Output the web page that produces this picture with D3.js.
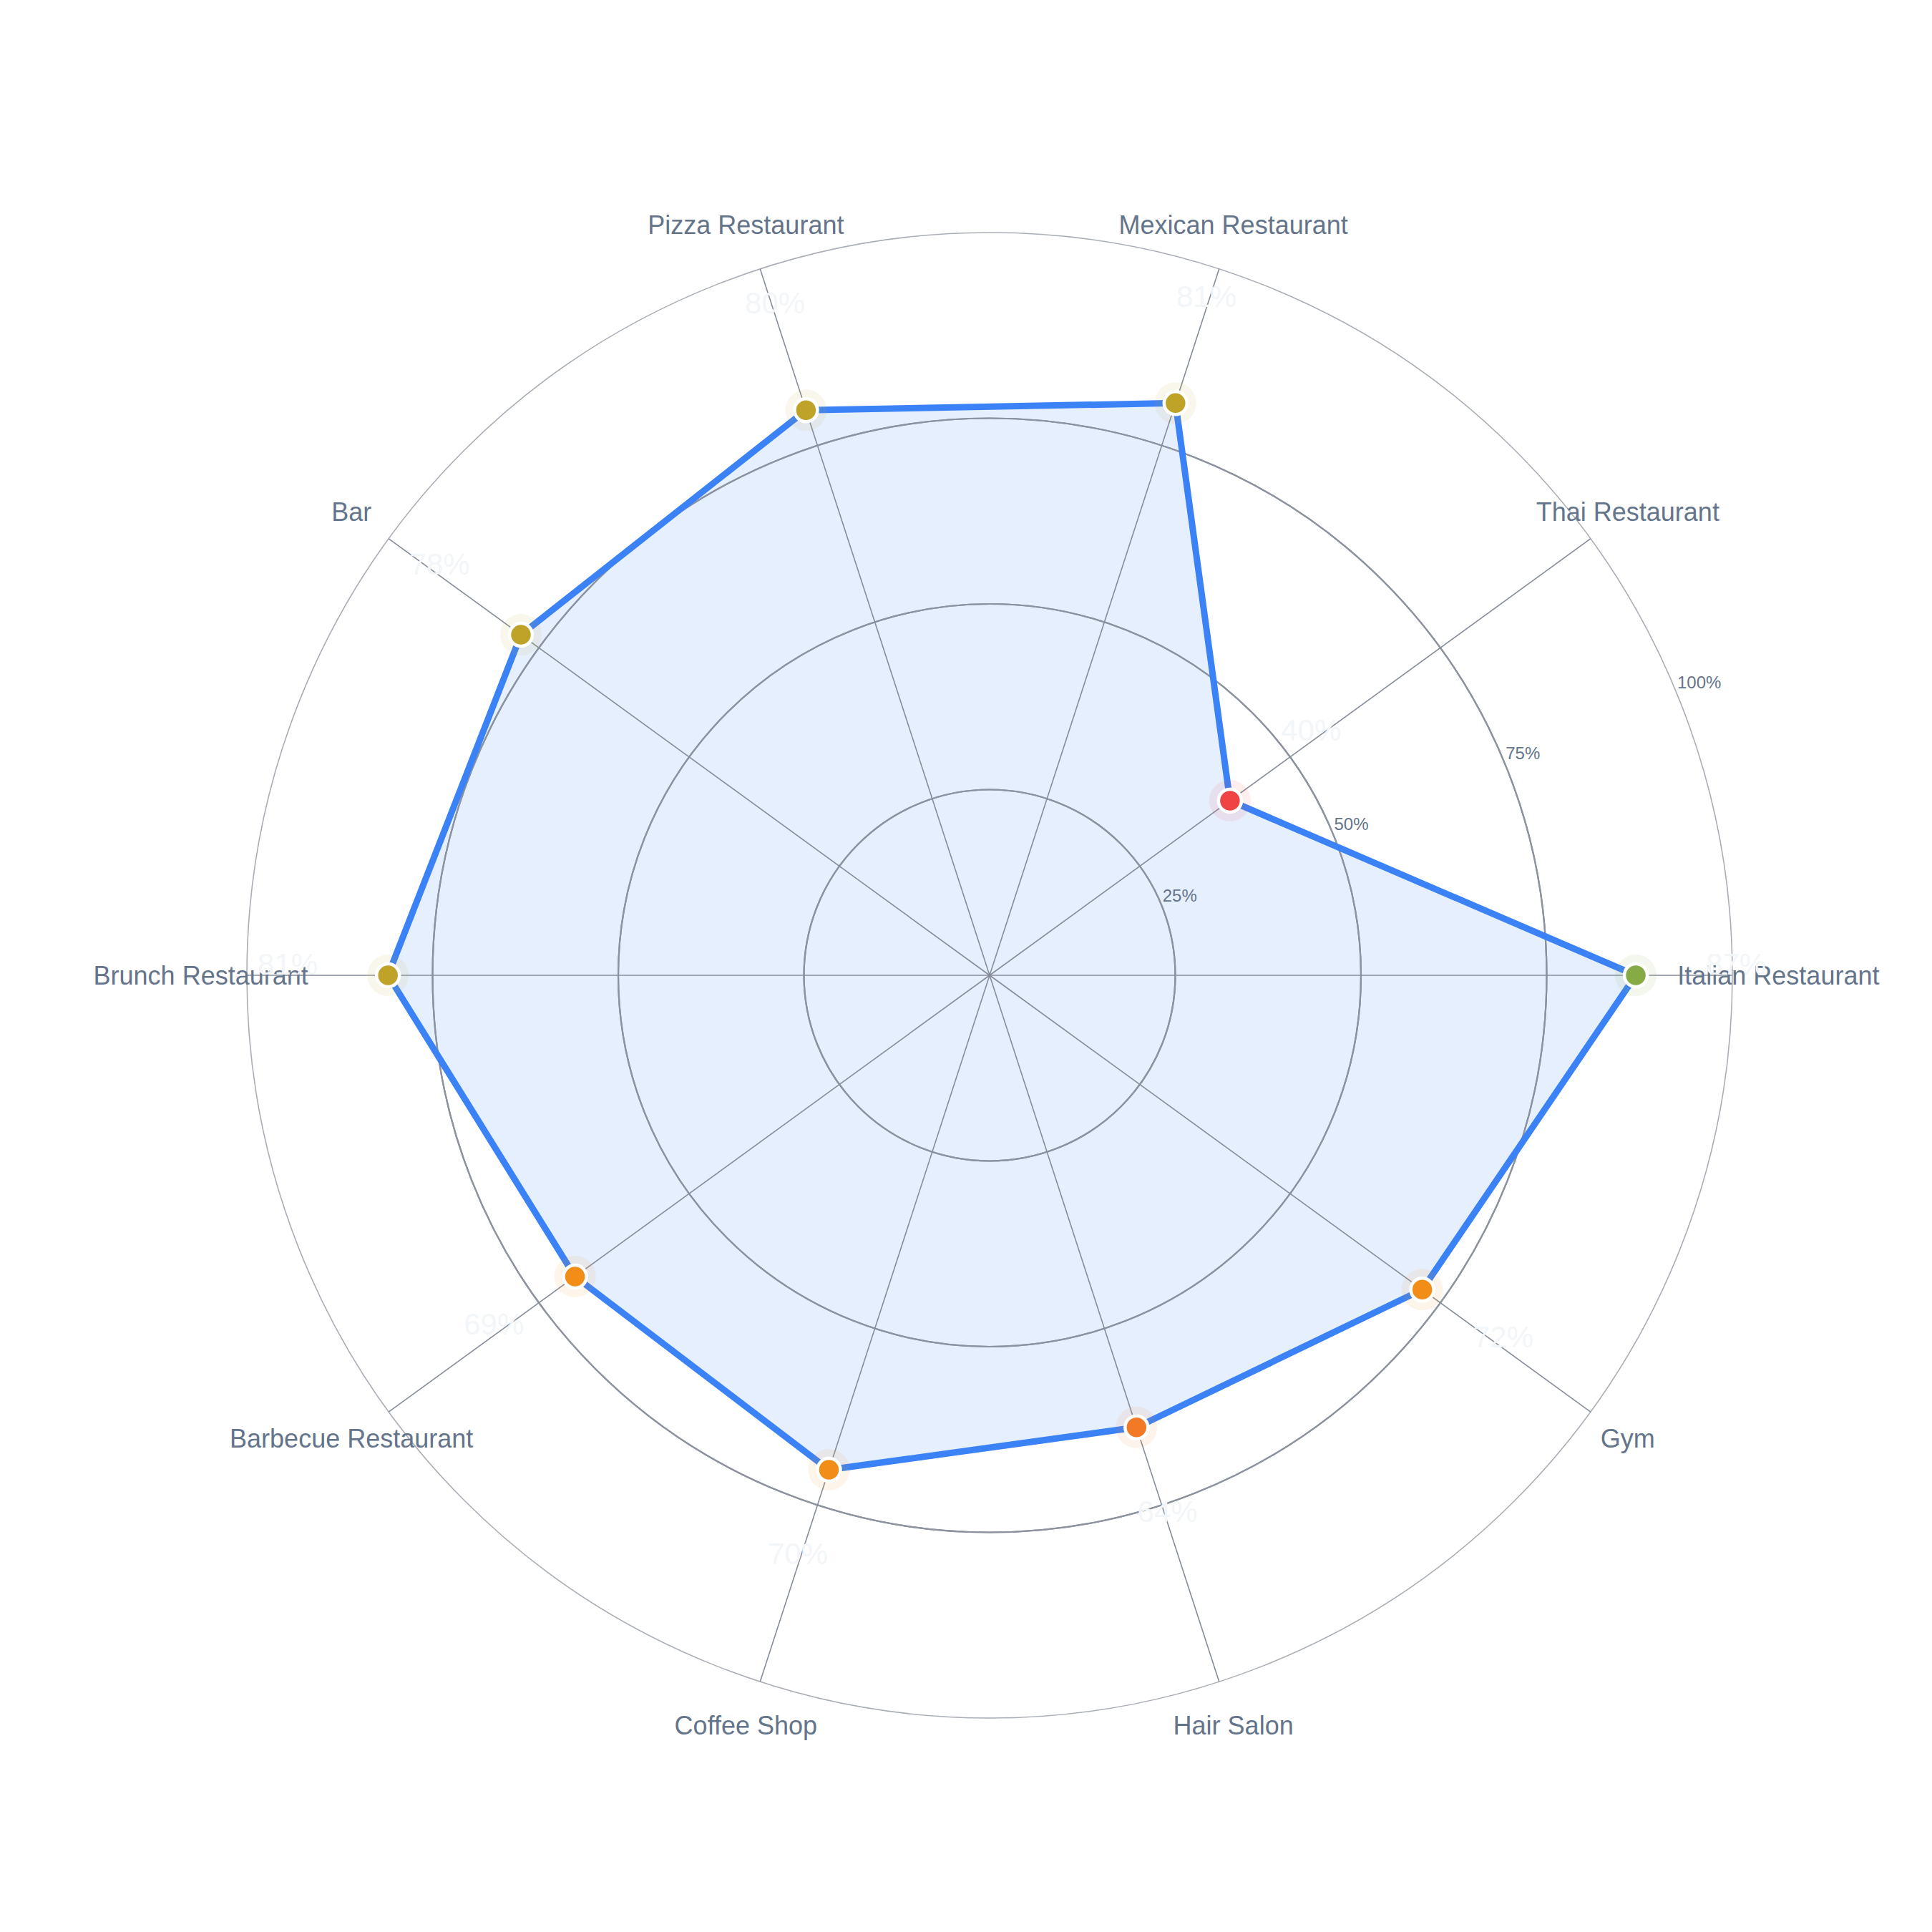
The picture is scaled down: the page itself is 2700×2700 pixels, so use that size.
<!DOCTYPE html>
<html>
<head>
<meta charset="utf-8">
<script src="https://cdn.jsdelivr.net/npm/d3@7"></script>
<style>
  html, body { margin: 0; padding: 0; background: #ffffff; }
  svg { display: block; }
</style>
</head>
<body>
<svg id="canvas"></svg>
<script>
'use strict';

// chart data
var categories = [
  'Italian Restaurant', 'Thai Restaurant', 'Mexican Restaurant', 'Pizza Restaurant', 'Bar',
  'Brunch Restaurant', 'Barbecue Restaurant', 'Coffee Shop', 'Hair Salon', 'Gym'
];
var values = [87, 40, 81, 80, 78, 81, 69, 70, 64, 72];
var radialTicks = [25, 50, 75, 100];

var WIDTH = 2700, HEIGHT = 2700;
var CX = 1383, CY = 1363, R = 1038;

function GetMarkerColor(v) {
  return d3.scaleThreshold()
    .domain([50, 66, 75, 85])
    .range(['#ef4444', '#f27925', '#f28d17', '#bfa228', '#86ab45'])(v);
}

function RenderChart() {
  var svg = d3.select('#canvas')
      .attr('width', WIDTH)
      .attr('height', HEIGHT);
  var g = svg.append('g')
      .attr('transform', 'translate(' + [CX, CY] + ')');

  var r = d3.scaleLinear().domain([0, 100]).range([0, R]);
  // angle counterclockwise from east, in radians
  var angle = d3.scaleBand().domain(categories).range([0, 2 * Math.PI]).paddingInner(0).align(0);
  function ax(c, v) { return r(v) * Math.cos(angle(c)); }
  function ay(c, v) { return -r(v) * Math.sin(angle(c)); }

  var rows = categories.map(function(c, i) { return {cat: c, value: values[i]}; });

  // outer ring
  g.selectAll('circle.ring')
      .data(radialTicks)
    .enter().append('circle')
      .attr('class', 'ring')
      .attr('r', function(d) { return r(d); })
      .attr('fill', 'none')
      .attr('stroke', function(d) { return d === 100 ? '#a9aeb6' : '#8c939e'; })
      .attr('stroke-width', function(d) { return d === 100 ? 1.6 : 2.2; });

  // fill
  var area = d3.areaRadial()
      .angle(function(d) { return Math.PI / 2 - angle(d.cat); })
      .innerRadius(0)
      .outerRadius(function(d) { return r(d.value); })
      .curve(d3.curveLinearClosed);
  g.append('path')
      .datum(rows)
      .attr('d', area)
      .attr('fill', '#3b82f6')
      .attr('fill-opacity', 0.13);

  // inner rings again over the fill
  g.selectAll('circle.ring2')
      .data(radialTicks.filter(function(d) { return d < 100; }))
    .enter().append('circle')
      .attr('r', function(d) { return r(d); })
      .attr('fill', 'none')
      .attr('stroke', '#8c939e')
      .attr('stroke-width', 2.2);

  // spokes
  g.selectAll('line.spoke')
      .data(categories)
    .enter().append('line')
      .attr('x1', 0).attr('y1', 0)
      .attr('x2', function(c) { return ax(c, 100); })
      .attr('y2', function(c) { return ay(c, 100); })
      .attr('stroke', '#858d99')
      .attr('stroke-width', 1.6);

  // radial tick labels
  var tickAngle = 22.5 * Math.PI / 180;
  g.selectAll('text.tick')
      .data(radialTicks)
    .enter().append('text')
      .attr('x', function(d) { return r(d) * Math.cos(tickAngle) + 2; })
      .attr('y', function(d) { return -r(d) * Math.sin(tickAngle) - 4; })
      .attr('font-family', '"Liberation Sans", Arial, sans-serif')
      .attr('font-size', 24)
      .attr('fill', '#64748b')
      .text(function(d) { return d + '%'; });

  // line
  var line = d3.lineRadial()
      .angle(function(d) { return Math.PI / 2 - angle(d.cat); })
      .radius(function(d) { return r(d.value); })
      .curve(d3.curveLinearClosed);
  g.append('path')
      .datum(rows)
      .attr('d', line)
      .attr('fill', 'none')
      .attr('stroke', '#3b82f6')
      .attr('stroke-width', 9)
      .attr('stroke-linejoin', 'round');

  // category labels
  g.selectAll('text.cat')
      .data(categories)
    .enter().append('text')
      .attr('x', function(c) { return ax(c, 106.2); })
      .attr('y', function(c) { return ay(c, 106.2); })
      .attr('text-anchor', 'middle')
      .attr('dominant-baseline', 'central')
      .attr('font-family', '"Liberation Sans", Arial, sans-serif')
      .attr('font-size', 36)
      .attr('fill', '#64748b')
      .text(function(c) { return c; });

  // markers
  var pt = g.selectAll('g.pt')
      .data(rows)
    .enter().append('g')
      .attr('transform', function(d) { return 'translate(' + [ax(d.cat, d.value), ay(d.cat, d.value)] + ')'; });
  pt.append('circle')
      .attr('r', 29)
      .attr('fill', function(d) { return GetMarkerColor(d.value); })
      .attr('fill-opacity', 0.09);
  pt.append('circle')
      .attr('r', 16)
      .attr('fill', function(d) { return GetMarkerColor(d.value); })
      .attr('stroke', '#ffffff')
      .attr('stroke-width', 4.5);

  // value labels (very faint)
  g.selectAll('text.val')
      .data(rows)
    .enter().append('text')
      .attr('x', function(d) { return ax(d.cat, d.value + 13.5); })
      .attr('y', function(d) { return ay(d.cat, d.value + 13.5) - 16; })
      .attr('text-anchor', 'middle')
      .attr('dominant-baseline', 'central')
      .attr('font-family', '"Liberation Sans", Arial, sans-serif')
      .attr('font-size', 42)
      .attr('fill', '#f3f6f9')
      .text(function(d) { return d.value + '%'; });
}

RenderChart();
</script>
</body>
</html>
